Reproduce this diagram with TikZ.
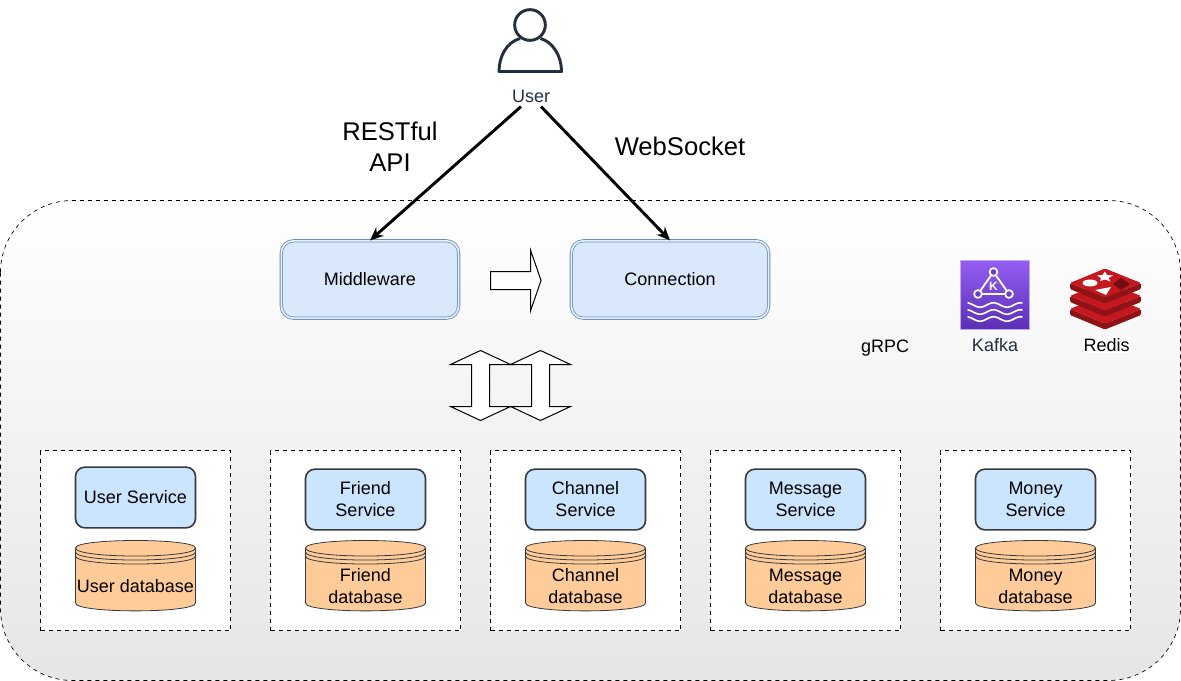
\documentclass[tikz,border=0pt]{standalone}
\usepackage{fontspec}
\setmainfont{Liberation Sans}
\usetikzlibrary{arrows.meta}
\definecolor{iconink}{HTML}{232F3E}
\definecolor{boxink}{HTML}{36393D}
\definecolor{serviceblue}{HTML}{CCE5FF}
\definecolor{dborange}{HTML}{FFCC99}
\definecolor{gatewayblue}{HTML}{DAE8FC}
\definecolor{gatewayline}{HTML}{6C8EBF}
\definecolor{kafkatop}{HTML}{945DF2}
\definecolor{kafkabottom}{HTML}{5A30B5}
\definecolor{redisface}{HTML}{C4181E}
\definecolor{redisside}{HTML}{8E1216}
\tikzset{
  textbase/.style={font=\fontsize{13.5}{16.5}\selectfont, align=center, inner sep=0pt},
  biglabel/.style={font=\fontsize{19.2}{23.25}\selectfont, align=center, inner sep=0pt},
  iconlabel/.style={textbase, text=iconink},
  gateway/.style={textbase, draw=gatewayline, double=gatewayblue!60!white, double distance=1.2pt,
    line width=0.6pt, fill=gatewayblue, rounded corners=9pt, minimum width=133pt, minimum height=58pt},
  servicebox/.style={textbase, draw=boxink, line width=1.2pt, fill=serviceblue,
    rounded corners=7pt, minimum width=90pt, minimum height=45.5pt},
  panelbox/.style={draw=black, dashed, line width=0.5pt, fill=white, outer sep=0pt,
    minimum width=142.5pt, minimum height=135pt},
  dbtext/.style={textbase, minimum width=90pt, minimum height=52.5pt},
  dbline/.style={draw=boxink, line width=0.6pt},
  blockarrow/.style={draw=black, line width=0.75pt, fill=white, miter limit=10},
  flow/.style={-{Stealth[length=10pt,width=8.5pt]}, line width=2.2pt, black},
}
% #1 key, #2 left edge of the panel, #3 service y, #4 service text, #5 database text
\newcommand{\ServiceUnit}[5]{
  \node[panelbox, anchor=north west] (#1panel) at (#2,450.5) {};
  \node[servicebox] (#1service) at (#2+95,#3) {#4};
  \path[dbline, fill=dborange]
    (#2+35,548) .. controls (#2+35,538) and (#2+155,538) .. (#2+155,548)
    -- (#2+155,603) .. controls (#2+155,613.5) and (#2+35,613.5) .. (#2+35,603) -- cycle;
  \foreach \lift in {548,552,556}
    \draw[dbline] (#2+35,\lift) .. controls (#2+35,\lift+10.7) and (#2+155,\lift+10.7) .. (#2+155,\lift);
  \node[dbtext] (#1db) at (#2+95,586) {#5};
}

\begin{document}
\begin{tikzpicture}[x=0.75pt, y=-0.75pt]
  \useasboundingbox (0,0) rectangle (1181,681);

  % backdrop
  \draw[dashed, line width=0.5pt, rounded corners=54pt, top color=white, bottom color=black!10]
    (0.5,200.5) rectangle (1180.5,680.5);

  % user
  \node[circle, draw=iconink, line width=2.2pt, minimum size=23pt, inner sep=0pt] (userhead) at (530,25) {};
  \draw[iconink, line width=2.2pt, line join=round]
    (520,38.5) .. controls (507,42) and (499,56) .. (499,71.5) -- (561.5,71.5)
    .. controls (561.5,56) and (553,42) .. (540.5,38.5);
  \node[iconlabel] (userlabel) at (531,96) {User};

  % gateways
  \node[gateway] (middleware) at (370,279.5) {Middleware};
  \node[gateway, minimum width=148pt] (connection) at (670,279.5) {Connection};
  \draw[flow] ([xshift=-7.5pt,yshift=-3pt]userlabel.south) -- (middleware.north);
  \draw[flow] ([xshift=7.5pt,yshift=-3pt]userlabel.south) -- (connection.north);
  \node[biglabel] (restlabel) at (390,146.5) {RESTful\\API};
  \node[biglabel] (wslabel) at (680,146.5) {WebSocket};

  % block arrows
  \draw[blockarrow] (490.5,271.5) -- (530.5,271.5) -- (530.5,250) -- (541,280.5)
    -- (530.5,311) -- (530.5,289.5) -- (490.5,289.5) -- cycle;
  \foreach \mid in {480.5,540.5}
    \draw[blockarrow] (\mid,350.5) -- (\mid+30,364.5) -- (\mid+9,364.5) -- (\mid+9,406.5)
      -- (\mid+30,406.5) -- (\mid,420.5) -- (\mid-30,406.5) -- (\mid-9,406.5)
      -- (\mid-9,364.5) -- (\mid-30,364.5) -- cycle;

  % services
  \ServiceUnit{user}{40.5}{497.5}{User Service}{User database}
  \ServiceUnit{friend}{270.5}{499.5}{Friend\\Service}{Friend\\database}
  \ServiceUnit{channel}{490.5}{499.5}{Channel\\Service}{Channel\\database}
  \ServiceUnit{message}{710.5}{499.5}{Message\\Service}{Message\\database}
  \ServiceUnit{money}{940.5}{499.5}{Money\\Service}{Money\\database}

  % kafka
  \draw[draw=kafkatop!55!white, line width=0.5pt, top color=kafkatop, bottom color=kafkabottom]
    (960.5,260.5) rectangle (1029.5,329.5);
  \draw[white, line width=1.4pt] (993.5,272) -- (978,294) -- (1009,294) -- cycle;
  \foreach \spot in {(993.5,272),(978,294),(1009,294)}
    \draw[white, line width=1.3pt, fill=kafkabottom!70!kafkatop] \spot circle[radius=2.9pt];
  \node[text=white, font=\fontsize{9}{9}\bfseries\selectfont, inner sep=0pt] (kafkamark) at (993.5,286) {K};
  \foreach \level in {305,312,319}
    \draw[white, line width=1.25pt, line cap=round] plot[domain=0:54, samples=41, smooth]
      ({968+\x}, {\level+2.2*cos(\x*13.333+200)});
  \node[iconlabel] (kafkalabel) at (995,345) {Kafka};

  % redis
  \foreach \drop in {26,13,0}{
    \fill[redisside, rounded corners=1pt] (1070,283+\drop) -- (1105,297.5+\drop) -- (1141,283+\drop)
      -- (1141,289+\drop) -- (1105,303.5+\drop) -- (1070,289+\drop) -- cycle;
    \fill[redisface, rounded corners=1pt] (1070,283+\drop) -- (1105,268.5+\drop) -- (1141,283+\drop)
      -- (1105,297.5+\drop) -- cycle;
  }
  \fill[white] (1090,283) ellipse[x radius=5.6pt, y radius=2.6pt];
  \fill[white] (1097,275.5) -- (1102.5,275) -- (1105,271.5) -- (1107,275) -- (1113,275.5)
    -- (1108.5,278) -- (1110.5,281.5) -- (1105,279.5) -- (1100,281) -- (1101,278) -- cycle;
  \fill[white] (1095,290) -- (1111,287) -- (1106,295) -- cycle;
  \fill[redisside!80!black] (1113,284) -- (1121,278) -- (1130,284) -- (1121,290) -- cycle;
  \node[textbase, fill=white, inner xsep=0pt, inner ysep=1pt] (redislabel) at (1106.5,345) {Redis};

  \node[textbase] (grpclabel) at (885,348) {gRPC};
\end{tikzpicture}
\end{document}
